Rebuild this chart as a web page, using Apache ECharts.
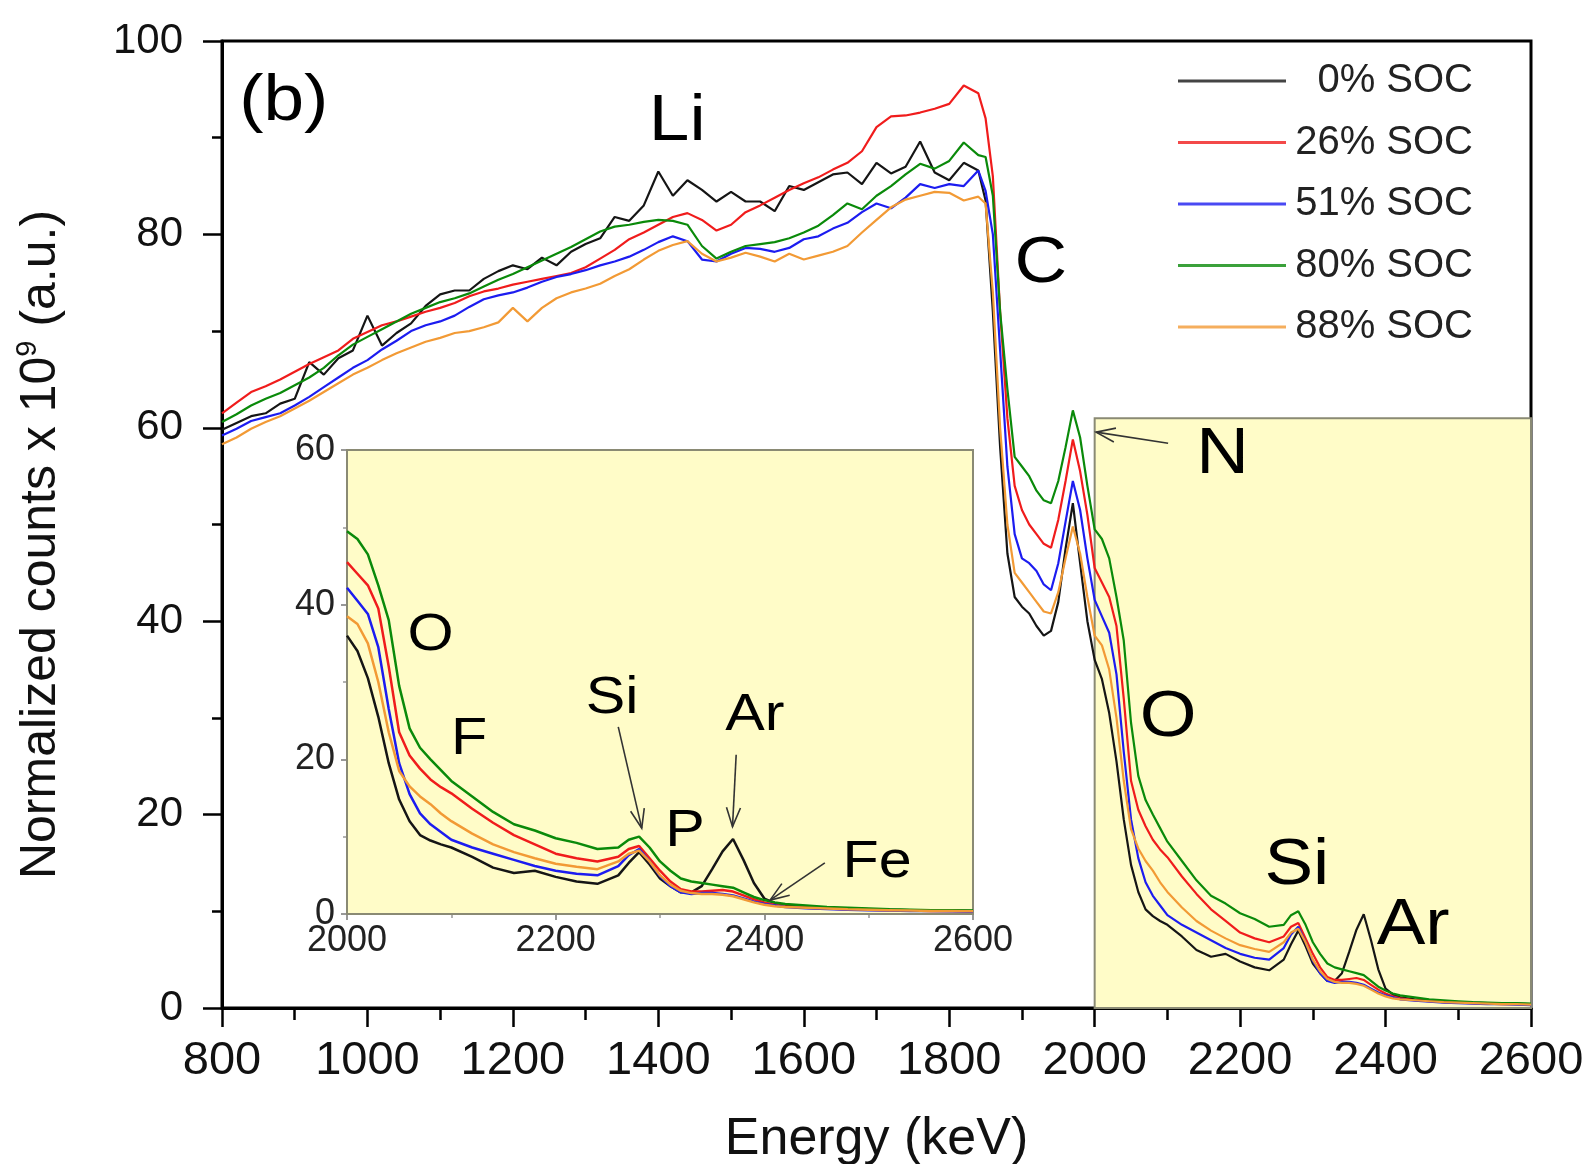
<!DOCTYPE html>
<html>
<head>
<meta charset="utf-8">
<title>RBS spectra vs SOC</title>
<script src="https://cdn.jsdelivr.net/npm/echarts@6/dist/echarts.min.js"></script>
<style>
html, body { margin: 0; padding: 0; background: #ffffff; }
#chart { width: 1589px; height: 1164px; }
</style>
</head>
<body>
<div id="chart"></div>
<script>
// Energy grid (keV); finer steps around the C/N/O edges and the Si/Ar peaks
const energy = [
  800,820,840,860,880,900,920,940,960,980,1000,1020,1040,1060,1080,1100,1120,1140,1160,1180,
  1200,1220,1240,1260,1280,1300,1320,1340,1360,1380,1400,1420,1440,1460,1480,1500,1520,1540,1560,1580,
  1600,1620,1640,1660,1680,1700,1720,1740,1760,1780,1800,1820,1840,
  1850,1860,1870,1880,1890,1900,1910,1920,1930,1940,1950,1960,1970,1980,1990,2000,2010,2020,2030,2040,2050,2060,2070,2080,2090,2100,
  2120,2140,2160,2180,2200,2220,2240,2260,
  2270,2280,2290,2300,2310,2320,2330,2340,2350,2360,2370,2380,2390,2400,2410,2420,
  2440,2460,2480,2500,2520,2540,2560,2580,2600
];

// Normalized counts x 10^9 for each state of charge
const soc0 = [
  59.8,60.5,61.2,61.5,62.5,63.0,66.8,65.5,67.2,68.0,71.6,68.5,69.8,70.8,72.6,73.8,74.2,74.2,75.4,76.2,
  76.8,76.4,77.6,76.8,78.2,79.0,79.6,81.8,81.4,83.0,86.5,84.0,85.6,84.6,83.4,84.4,83.4,83.4,82.4,85.0,
  84.6,85.4,86.2,86.4,85.2,87.4,86.3,87.0,89.6,86.4,85.6,87.4,86.6,
  83.5,72,58,47,42.5,41.5,40.8,39.5,38.5,39,42,47.5,52.2,46,40,36,34,30.5,25.5,19.5,14.8,12,10.2,9.5,9.0,8.6,
  7.4,6.0,5.3,5.6,4.8,4.2,3.9,5.0,
  6.6,8.0,6.4,4.6,3.6,2.8,2.8,3.6,5.8,8.1,9.7,7.0,4.0,2.0,1.4,1.1,
  0.9,0.8,0.7,0.6,0.55,0.5,0.5,0.45,0.4
];
const soc26 = [
  61.5,62.6,63.7,64.3,65.0,65.8,66.6,67.3,68.0,69.2,69.9,70.6,71.0,71.5,72.0,72.4,72.9,73.6,74.1,74.4,
  74.8,75.1,75.4,75.7,76.0,76.6,77.5,78.4,79.5,80.2,81.0,81.8,82.2,81.5,80.4,81.0,82.3,83.0,83.8,84.6,
  85.3,85.9,86.7,87.4,88.6,91.1,92.2,92.3,92.6,93.0,93.5,95.4,94.6,
  92,86,72,61,54,51.5,50,49,48,47.6,50.5,54.5,58.8,55.5,51,45.5,44,42.5,39.5,32,23.5,20.5,18.8,17.4,16.4,15.6,
  13.6,11.8,10.2,9.0,7.8,7.2,6.8,7.4,
  8.4,8.8,7.2,5.6,4.2,3.2,2.9,2.9,3.0,3.1,2.9,2.4,1.9,1.5,1.2,1.0,
  0.8,0.7,0.6,0.55,0.5,0.45,0.4,0.4,0.35
];
const soc51 = [
  59.2,59.9,60.7,61.1,61.5,62.3,63.2,64.2,65.2,66.2,67.0,68.1,69.0,70.0,70.6,71.0,71.6,72.5,73.3,73.7,
  74.0,74.5,75.1,75.6,75.9,76.3,76.8,77.2,77.7,78.4,79.2,79.8,79.3,77.4,77.2,78.0,78.6,78.5,78.2,78.6,
  79.5,79.8,80.6,81.2,82.3,83.2,82.7,83.8,85.2,84.8,85.2,85.0,86.6,
  84.5,80,68,56,49,46.5,46,45.2,43.8,43.2,46,50.3,54.5,51.5,46.5,42.2,40.5,38.8,34.5,26.5,19.5,15.5,13.0,11.6,10.6,9.6,
  8.6,7.8,7.0,6.2,5.6,5.2,5.0,6.2,
  7.6,8.4,6.8,4.9,3.6,2.8,2.6,2.7,2.7,2.6,2.4,2.0,1.6,1.3,1.1,0.9,
  0.75,0.65,0.55,0.5,0.45,0.4,0.4,0.35,0.3
];
const soc80 = [
  60.6,61.4,62.3,63.0,63.6,64.4,65.2,66.2,67.5,68.6,69.4,70.2,71.0,71.8,72.4,73.0,73.4,73.9,74.6,75.3,
  75.9,76.6,77.3,78.0,78.7,79.5,80.3,80.8,81.0,81.3,81.5,81.4,81.0,78.8,77.5,78.2,78.8,79.0,79.2,79.6,
  80.2,80.9,82.0,83.2,82.6,84.0,85.0,86.2,87.3,86.8,87.6,89.5,88.2,
  88,84,72,64,57,56,55,53.5,52.5,52.2,54.5,58,61.8,59,54,49.5,48.5,46.5,42.5,38,29.5,24,21.5,20,18.6,17.2,
  15.2,13.2,11.6,10.8,9.8,9.2,8.4,8.6,
  9.6,10.0,8.6,6.8,5.6,4.6,4.2,4.0,3.8,3.6,3.4,2.8,2.2,1.8,1.5,1.3,
  1.1,0.9,0.8,0.7,0.6,0.55,0.5,0.5,0.45
];
const soc88 = [
  58.3,59.0,59.9,60.6,61.2,62.0,62.8,63.7,64.6,65.5,66.2,67.0,67.7,68.3,68.9,69.3,69.8,70.0,70.4,70.9,
  72.4,71.0,72.4,73.4,74.0,74.4,74.9,75.7,76.4,77.4,78.3,78.9,79.3,78.0,77.2,77.6,78.1,77.7,77.2,78.0,
  77.4,77.8,78.2,78.8,80.2,81.5,82.8,83.6,84.0,84.4,84.3,83.5,83.9,
  83.2,74,60,50,45,44,43,42,41,40.8,43,46.5,49.8,47,42.5,38.5,37.5,35,30,23.5,18.5,16.5,15.2,14.2,13.0,12.0,
  10.4,9.0,8.0,7.2,6.5,6.1,5.8,6.8,
  7.8,8.2,6.8,5.0,3.8,3.0,2.7,2.6,2.6,2.5,2.3,1.9,1.5,1.2,1.0,0.9,
  0.8,0.7,0.6,0.55,0.5,0.45,0.4,0.4,0.35
];

const seriesNames = ['0% SOC', '26% SOC', '51% SOC', '80% SOC', '88% SOC'];
const seriesValues = [soc0, soc26, soc51, soc80, soc88];
const seriesColors = ['#151515', '#f01c1c', '#1c1cf0', '#0a8a0a', '#f29a35'];

// Axis ranges and tick steps
const mainX = { min: 800, max: 2600, step: 200 };
const mainY = { min: 0, max: 100, step: 20 };
const insetX = { min: 2000, max: 2600, step: 200 };
const insetY = { min: 0, max: 60, step: 20 };

// Highlighted window of the main plot that the inset enlarges
const zoomWindow = { x0: 2000, x1: 2600, y0: 0, y1: 61 };

// Element labels and arrows, in data coordinates of each grid
const mainLabels = [
  { text: '(b)', at: [885, 93.7] },
  { text: 'Li', at: [1426, 91.6] },
  { text: 'C', at: [1926, 76.9] },
  { text: 'N', at: [2176, 57.2] },
  { text: 'O', at: [2101, 30.0] },
  { text: 'Si', at: [2278, 14.6] },
  { text: 'Ar', at: [2438, 8.4] }
];
const mainArrows = [
  { from: [2101, 58.4], to: [2002, 59.55] }
];
const insetLabels = [
  { text: 'O', at: [2080, 36.0] },
  { text: 'F', at: [2117, 22.5] },
  { text: 'Si', at: [2254, 27.8] },
  { text: 'Ar', at: [2391, 25.7] },
  { text: 'P', at: [2324, 10.6] },
  { text: 'Fe', at: [2508, 6.6] }
];
const insetArrows = [
  { from: [2260, 24.2], to: [2282.5, 11.1] },
  { from: [2373, 20.6], to: [2369.5, 11.3] },
  { from: [2458, 6.6], to: [2405.5, 1.8] }
];

const FONT = 'Arial, "Liberation Sans", Helvetica, sans-serif';

function pairs(values, fromX) {
  const out = [];
  for (let i = 0; i < energy.length; i++) {
    if (energy[i] >= fromX) out.push([energy[i], values[i]]);
  }
  return out;
}
const plainNumber = v => String(v);

const chart = echarts.init(document.getElementById('chart'), null, { renderer: 'canvas' });

const mainSeries = seriesNames.map((name, i) => ({
  name: name,
  type: 'line',
  xAxisIndex: 0,
  yAxisIndex: 0,
  data: pairs(seriesValues[i], mainX.min),
  showSymbol: false,
  symbol: 'none',
  smooth: false,
  color: seriesColors[i],
  lineStyle: { color: seriesColors[i], width: 2.2 },
  z: 3
}));

const insetSeries = seriesNames.map((name, i) => ({
  name: name,
  type: 'line',
  xAxisIndex: 1,
  yAxisIndex: 1,
  data: pairs(seriesValues[i], insetX.min),
  showSymbol: false,
  symbol: 'none',
  smooth: false,
  color: seriesColors[i],
  lineStyle: { color: seriesColors[i], width: 2.5 },
  z: 3
}));

// Shaded window drawn under the curves
const windowSeries = {
  name: 'window',
  type: 'line',
  xAxisIndex: 0,
  yAxisIndex: 0,
  data: [],
  z: 1,
  silent: true,
  markArea: {
    silent: true,
    itemStyle: { color: '#fffcc8', borderColor: '#8a8a74', borderWidth: 2 },
    data: [[{ coord: [zoomWindow.x0, zoomWindow.y0] }, { coord: [zoomWindow.x1, zoomWindow.y1] }]]
  }
};

const blackAxis = { lineStyle: { color: '#000', width: 3 } };

const option = {
  animation: false,
  backgroundColor: '#ffffff',
  textStyle: { fontFamily: FONT },
  grid: [
    { left: 222, top: 41, width: 1309, height: 967, show: true, borderColor: '#000', borderWidth: 3,
      backgroundColor: 'transparent', containLabel: false, outerBoundsMode: 'none' },
    { left: 347, top: 450, width: 626, height: 464, show: true, borderColor: '#8a8a74', borderWidth: 2,
      backgroundColor: '#fffcc8', containLabel: false, outerBoundsMode: 'none', z: 2 }
  ],
  legend: {
    orient: 'vertical',
    left: 1173,
    top: 56,
    itemWidth: 108,
    itemHeight: 3,
    itemGap: 21.5,
    icon: 'rect',
    selectedMode: false,
    itemStyle: { opacity: 0.8 },
    data: seriesNames,
    formatter: name => '{n|' + name + '}',
    textStyle: {
      rich: { n: { fontSize: 40, fontFamily: FONT, color: '#222', width: 182, align: 'right', lineHeight: 44 } }
    }
  },
  xAxis: [
    {
      type: 'value', gridIndex: 0, min: mainX.min, max: mainX.max, interval: mainX.step,
      axisLine: blackAxis,
      axisTick: { show: true, inside: false, length: 19, lineStyle: { color: '#000', width: 2.5 } },
      minorTick: { show: true, splitNumber: 2, length: 12, lineStyle: { color: '#000', width: 2.5 } },
      splitLine: { show: false },
      axisLabel: { fontSize: 47, fontFamily: FONT, color: '#111', margin: 30, formatter: plainNumber },
      name: 'Energy (keV)', nameLocation: 'middle', nameGap: 106,
      nameTextStyle: { fontSize: 52, fontFamily: FONT, color: '#111' }
    },
    {
      type: 'value', gridIndex: 1, min: insetX.min, max: insetX.max, interval: insetX.step,
      axisLine: { lineStyle: { color: '#8a8a74', width: 2 } },
      axisTick: { show: true, inside: false, length: 6, lineStyle: { color: '#777', width: 1.5 } },
      minorTick: { show: true, splitNumber: 2, length: 4, lineStyle: { color: '#999', width: 1.5 } },
      splitLine: { show: false },
      axisLabel: { fontSize: 36, fontFamily: FONT, color: '#222', margin: 9, formatter: plainNumber }
    }
  ],
  yAxis: [
    {
      type: 'value', gridIndex: 0, min: mainY.min, max: mainY.max, interval: mainY.step,
      axisLine: blackAxis,
      axisTick: { show: true, inside: false, length: 19, lineStyle: { color: '#000', width: 2.5 } },
      minorTick: { show: true, splitNumber: 2, length: 10, lineStyle: { color: '#000', width: 2.5 } },
      splitLine: { show: false },
      axisLabel: { fontSize: 42, fontFamily: FONT, color: '#111', margin: 39, formatter: plainNumber },
      name: '{t|Normalized counts x 10}{s|9}{t| (a.u.)}{p|}',
      nameLocation: 'middle', nameRotate: 90, nameGap: 153,
      nameTextStyle: {
        rich: {
          t: { fontSize: 50, fontFamily: FONT, color: '#111', lineHeight: 56 },
          s: { fontSize: 29, fontFamily: FONT, color: '#111', verticalAlign: 'top', lineHeight: 30 },
          p: { width: 40 }
        }
      }
    },
    {
      type: 'value', gridIndex: 1, min: insetY.min, max: insetY.max, interval: insetY.step,
      axisLine: { lineStyle: { color: '#8a8a74', width: 2 } },
      axisTick: { show: true, inside: false, length: 6, lineStyle: { color: '#777', width: 1.5 } },
      minorTick: { show: true, splitNumber: 2, length: 4, lineStyle: { color: '#999', width: 1.5 } },
      splitLine: { show: false },
      axisLabel: { fontSize: 36, fontFamily: FONT, color: '#222', margin: 12, formatter: plainNumber }
    }
  ],
  series: [windowSeries].concat(mainSeries, insetSeries)
};

chart.setOption(option);

// Element labels and arrows placed through the axes' own scales
function toPx(gridIndex, p) {
  return chart.convertToPixel({ gridIndex: gridIndex }, p);
}
function textEl(gridIndex, item, size) {
  const p = toPx(gridIndex, item.at);
  return {
    type: 'text', x: p[0], y: p[1], scaleX: 1.14, z: 100,
    style: { text: item.text, fontSize: size, fontFamily: FONT, fill: '#000', align: 'center', verticalAlign: 'middle' }
  };
}
function arrowEls(gridIndex, a) {
  const p0 = toPx(gridIndex, a.from);
  const p1 = toPx(gridIndex, a.to);
  const dx = p1[0] - p0[0], dy = p1[1] - p0[1];
  const len = Math.hypot(dx, dy);
  const ux = dx / len, uy = dy / len;
  const hl = 19, hw = 7;
  const bx = p1[0] - ux * hl, by = p1[1] - uy * hl;
  const left = [bx - uy * hw, by + ux * hw];
  const right = [bx + uy * hw, by - ux * hw];
  const st = { stroke: '#333', lineWidth: 1.6, fill: null };
  return [
    { type: 'line', z: 100, shape: { x1: p0[0], y1: p0[1], x2: p1[0], y2: p1[1] }, style: st },
    { type: 'polyline', z: 100, shape: { points: [left, p1, right] }, style: st }
  ];
}

const graphics = [];
mainLabels.forEach(l => graphics.push(textEl(0, l, 64)));
insetLabels.forEach(l => graphics.push(textEl(1, l, 52)));
mainArrows.forEach(a => arrowEls(0, a).forEach(e => graphics.push(e)));
insetArrows.forEach(a => arrowEls(1, a).forEach(e => graphics.push(e)));
chart.setOption({ graphic: graphics });
</script>
</body>
</html>
